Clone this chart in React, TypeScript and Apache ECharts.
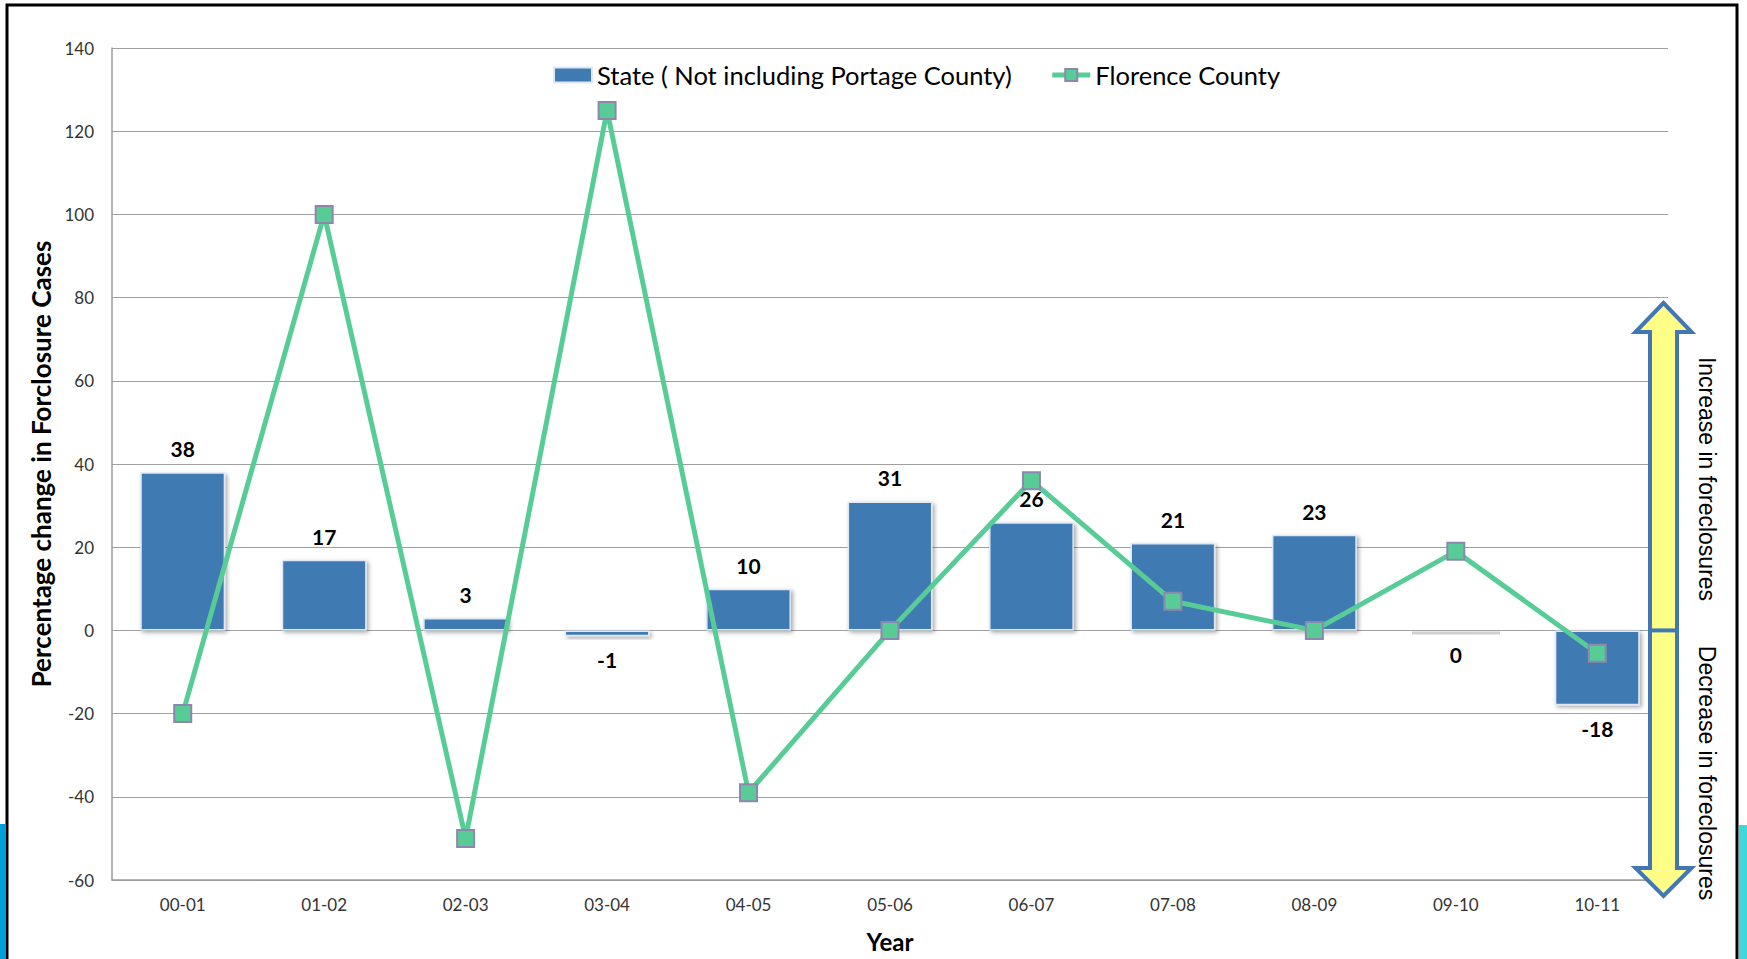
import React, { useEffect, useRef } from 'react';
import * as echarts from 'echarts';

const categories = ['00-01', '01-02', '02-03', '03-04', '04-05', '05-06', '06-07', '07-08', '08-09', '09-10', '10-11'];
const stateValues = [38, 17, 3, -1.4, 10, 31, 26, 21, 23, 0, -18];
const florenceValues = [-20, 100, -50, 125, -39, 0, 36, 7, 0, 19, -5.5];
const seriesNames = ['State ( Not including Portage County)', 'Florence County'];
const yMin = -60;
const yMax = 140;
const yInterval = 20;
const xTitle = 'Year';
const yTitle = 'Percentage change in Forclosure Cases';
const arrowLabels = ['Increase in foreclosures', 'Decrease in foreclosures'];

export default function App() {
  const ref = useRef<HTMLDivElement>(null);
  useEffect(() => {
    const chart = echarts.init(ref.current!, null, { renderer: 'svg' });
    const gl = 112, gr = 1668, gt = 48, gb = 880;
    const zeroY = gt + ((yMax - 0) * (gb - gt)) / (yMax - yMin);
    const cx = 1663.5;
    const sw = 13.5, hw = 28;
    const topTip = 303, topBase = 332, botBase = 868, botTip = 896;
    const font = 'Lato, "Noto Sans", sans-serif';
    const arrowFont = '"Liberation Sans", Arial, sans-serif';
    chart.setOption({
      animation: false,
      backgroundColor: '#ffffff',
      grid: { left: gl, right: 1747 - gr, top: gt, bottom: 959 - gb, containLabel: false },
      legend: {
        left: 548,
        top: 57,
        itemWidth: 38,
        itemHeight: 15,
        itemGap: 38,
        textStyle: { fontSize: 25.5, color: '#000', fontFamily: font },
        data: [
          { name: seriesNames[0], icon: 'rect' },
          { name: seriesNames[1], lineStyle: { width: 5 } },
        ],
      },
      xAxis: {
        type: 'category',
        data: categories,
        name: xTitle,
        nameLocation: 'middle',
        nameGap: 49,
        nameTextStyle: { fontSize: 24, fontWeight: 'bold', color: '#000', fontFamily: font },
        axisLine: { onZero: false, lineStyle: { color: '#9a9a9a', width: 1.5 } },
        axisTick: { show: false },
        axisLabel: { fontSize: 17, color: '#333', margin: 16, fontFamily: font },
      },
      yAxis: {
        type: 'value',
        min: yMin,
        max: yMax,
        interval: yInterval,
        name: yTitle,
        nameLocation: 'middle',
        nameGap: 56,
        nameTextStyle: { fontSize: 26, fontWeight: 'bold', color: '#000', fontFamily: font },
        axisLine: { show: true, lineStyle: { color: '#9a9a9a', width: 1.5 } },
        axisTick: { show: false },
        axisLabel: { fontSize: 17, color: '#333', margin: 18, fontFamily: font },
        splitLine: { lineStyle: { color: '#a0a0a0', width: 1.2 } },
      },
      series: [
        {
          name: seriesNames[0],
          type: 'bar',
          barCategoryGap: '40%',
          z: 2,
          data: stateValues.map((v) => ({
            value: v,
            label: { position: v <= 0 ? 'bottom' : 'top' },
          })),
          itemStyle: {
            color: '#3f7ab2',
            borderColor: '#dfe8f3',
            borderWidth: 1.5,
            shadowColor: 'rgba(0,0,0,0.35)',
            shadowBlur: 4,
            shadowOffsetX: 2,
            shadowOffsetY: 2,
          },
          label: {
            show: true,
            distance: 13,
            fontSize: 21,
            fontWeight: 'bold',
            color: '#000',
            fontFamily: font,
            formatter: (p: any) => String(Math.round(p.value) || 0),
          },
        },
        {
          name: seriesNames[1],
          type: 'line',
          z: 5,
          data: florenceValues,
          symbol: 'rect',
          symbolSize: 17,
          lineStyle: { color: '#58cc97', width: 5 },
          itemStyle: { color: '#58cc97', borderColor: '#8e86ae', borderWidth: 2 },
        },
      ],
      graphic: [
        {
          type: 'rect',
          shape: { x: 7, y: 5, width: 1730, height: 1000 },
          style: { fill: 'none', stroke: '#000', lineWidth: 3 },
          silent: true,
        },
        {
          type: 'rect',
          shape: { x: 0, y: 824, width: 6, height: 135 },
          style: { fill: '#009fda' },
          silent: true,
        },
        {
          type: 'rect',
          shape: { x: 1739, y: 825, width: 8, height: 134 },
          style: { fill: '#3dd8dc' },
          silent: true,
        },
        {
          type: 'rect',
          z: 1,
          shape: { x: 1412, y: zeroY + 1, width: 88, height: 3 },
          style: { fill: '#d0d0d0' },
          silent: true,
        },
        {
          type: 'polygon',
          z: 10,
          shape: {
            points: [
              [cx, topTip], [cx + hw, topBase], [cx + sw, topBase], [cx + sw, botBase], [cx + hw, botBase],
              [cx, botTip], [cx - hw, botBase], [cx - sw, botBase], [cx - sw, topBase], [cx - hw, topBase],
            ],
          },
          style: { fill: '#ffff88', stroke: '#4177b5', lineWidth: 4, lineJoin: 'miter' },
          silent: true,
        },
        {
          type: 'line',
          z: 11,
          shape: { x1: cx - sw, y1: zeroY, x2: cx + sw, y2: zeroY },
          style: { stroke: '#4177b5', lineWidth: 4 },
          silent: true,
        },
        {
          type: 'text',
          x: 1707,
          y: 479,
          rotation: -Math.PI / 2,
          style: {
            text: arrowLabels[0],
            fontSize: 23,
            fontFamily: arrowFont,
            fill: '#000',
            align: 'center',
            verticalAlign: 'middle',
          },
          silent: true,
        },
        {
          type: 'text',
          x: 1707,
          y: 773,
          rotation: -Math.PI / 2,
          style: {
            text: arrowLabels[1],
            fontSize: 23,
            fontFamily: arrowFont,
            fill: '#000',
            align: 'center',
            verticalAlign: 'middle',
          },
          silent: true,
        },
      ],
    });
    return () => chart.dispose();
  }, []);
  return (
    <div
      ref={ref}
      style={{ position: 'fixed', left: 0, top: 0, width: 1747, height: 959, background: '#fff' }}
    />
  );
}
